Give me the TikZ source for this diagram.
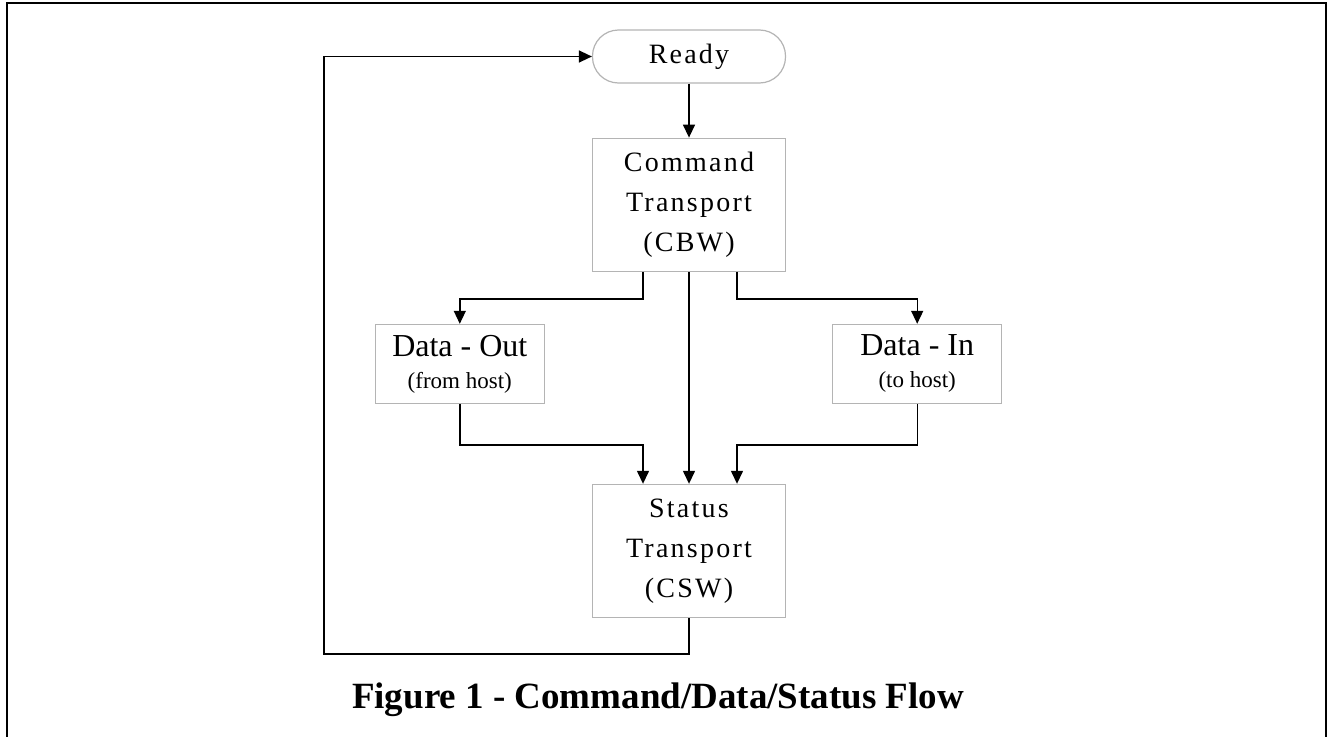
\documentclass[tikz,border=0pt]{standalone}
\usepackage{fontspec}
\setmainfont{Liberation Serif}
\newfontfamily\wide[LetterSpace=8]{Liberation Serif}
\usetikzlibrary{arrows.meta, positioning}
\definecolor{edge}{HTML}{B4B4B4}
\tikzset{
  blk/.style  = {rectangle, draw=edge, line width=1.2pt, fill=white,
                 minimum width=193pt, minimum height=133pt, inner sep=0pt,
                 font=\wide\fontsize{28}{40}\selectfont, align=center},
  term/.style = {blk, rounded corners=26pt, minimum height=53pt},
  sub/.style  = {rectangle, draw=edge, line width=1.2pt, fill=white,
                 minimum width=169pt, minimum height=79pt, inner sep=0pt,
                 font=\fontsize{32}{32}\selectfont, align=center},
  arr/.style  = {-{Triangle[length=13pt,width=12pt]}, line width=1.4pt},
}
\begin{document}
\begin{tikzpicture}[x=1pt, y=1pt]
  \useasboundingbox (0,0) rectangle (1330,-736);
  \draw[line width=2.2pt] (7,-745) |- (1326,-3) -- (1326,-745);

  \node[term] at (689,-56.5) (ready) {Ready};
  \node[blk, below=54pt of ready]   (cmd)  {Command\\Transport\\(CBW)};
  \node[sub, below left=52pt and 47pt of cmd]  (dout)
    {Data - Out\\[0pt]{\fontsize{23}{24}\selectfont(from host)}};
  \node[sub, below right=52pt and 46pt of cmd] (din)
    {Data - In\\[0pt]{\fontsize{23}{24}\selectfont(to host)}};
  \node[blk, below=212pt of cmd]    (stat) {Status\\Transport\\(CSW)};

  \draw[arr] (ready) -- (cmd);
  \draw[arr] ([xshift=-46pt]cmd.south) -- ++(0,-27) -| (dout.north);
  \draw[arr] ([xshift=48pt]cmd.south) -- ++(0,-27) -| (din.north);
  \draw[arr] (cmd) -- (stat);
  \draw[arr] (dout.south) -- ++(0,-41) -| ([xshift=-46pt]stat.north);
  \draw[arr] (din.south) -- ++(0,-41) -| ([xshift=48pt]stat.north);

  % back to ready
  \coordinate (lp) at (324,-654);
  \draw[arr] (stat.south) |- (lp) |- (ready.west);

  \node[anchor=base, font=\bfseries\fontsize{37}{40}\selectfont] (cap)
    at (658,-708) {Figure 1 - Command/Data/Status Flow};
\end{tikzpicture}
\end{document}
